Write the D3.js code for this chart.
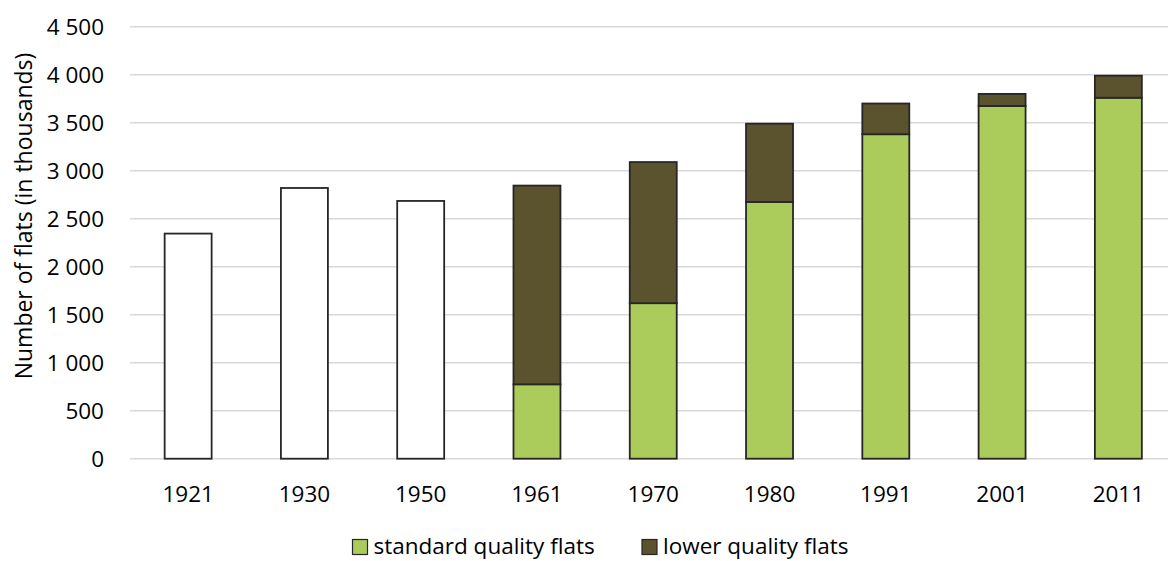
<!DOCTYPE html>
<html><head><meta charset="utf-8">
<script src="https://cdn.jsdelivr.net/npm/d3@7"></script>
<style>body{margin:0;background:#fff}svg{display:block}text{font-family:"Open Sans",sans-serif;fill:#000}</style>
</head><body><svg id="c" width="1168" height="561"></svg>
<script>
const years = ['1921','1930','1950','1961','1970','1980','1991','2001','2011'];
const totalUnsplit = [2345, 2820, 2685, 0, 0, 0, 0, 0, 0];
const standardFlats = [0, 0, 0, 775, 1620, 2675, 3380, 3675, 3760];
const lowerFlats = [0, 0, 0, 2070, 1470, 815, 320, 125, 230];
const yTicks = [0,500,1000,1500,2000,2500,3000,3500,4000,4500];
const seriesNames = ['standard quality flats','lower quality flats'];
const colors = ['#ABCB5A','#5B532E'];

const FS = 22.5;
const svg = d3.select('#c');
const x = d3.scaleBand().domain(years).range([130, 1176.5]).paddingInner(0.596).paddingOuter(0.298);
const y = d3.scaleLinear().domain([0,4500]).range([458.7, 26.7]);
const fmt = v => d3.format(',')(v).replace(/,/g,' ');

// gridlines
svg.append('g').selectAll('line').data(yTicks).join('line')
  .attr('x1',130).attr('x2',1168).attr('y1',d=>y(d)).attr('y2',d=>y(d))
  .attr('stroke','#D9D9D9').attr('stroke-width',1.5);

// y axis labels
const yAxis = d3.axisLeft(y).tickValues(yTicks).tickFormat(fmt).tickSize(0).tickPadding(0);
const ga = svg.append('g').attr('transform','translate(104,0)').call(yAxis);
ga.select('.domain').remove();
ga.selectAll('text').attr('font-size',FS).attr('dy','0.36em').attr('font-family','"Open Sans",sans-serif').attr('fill','#000');

// x axis labels
const xAxis = d3.axisBottom(x).tickSize(0).tickPadding(0);
const gx = svg.append('g').call(xAxis);
gx.select('.domain').remove();
gx.selectAll('text').attr('y',502).attr('dy',0).attr('font-size',FS).attr('font-family','"Open Sans",sans-serif').attr('fill','#000');

// unsplit bars
const rows = years.map((yr,i)=>({year:yr, total:totalUnsplit[i], standard:standardFlats[i], lower:lowerFlats[i]}));
svg.append('g').selectAll('rect').data(rows.filter(d=>d.total>0)).join('rect')
  .attr('x',d=>x(d.year)).attr('width',x.bandwidth())
  .attr('y',d=>y(d.total)).attr('height',d=>y(0)-y(d.total))
  .attr('fill','#fff').attr('stroke','#262626').attr('stroke-width',1.8);

// stacked bars
const stack = d3.stack().keys(['standard','lower'])(rows.filter(d=>d.standard>0));
svg.append('g').selectAll('g').data(stack).join('g').attr('fill',(d,i)=>colors[i])
  .selectAll('rect').data(d=>d).join('rect')
  .attr('x',d=>x(d.data.year)).attr('width',x.bandwidth())
  .attr('y',d=>y(d[1])).attr('height',d=>y(d[0])-y(d[1]))
  .attr('stroke','#262626').attr('stroke-width',1.8);

// y title
svg.append('text').attr('transform','translate(31.5,216) rotate(-90)').attr('text-anchor','middle')
  .attr('font-size',23).text('Number of flats (in thousands)');

// legend
const legX = [352.5, 642];
const lg = svg.append('g');
seriesNames.forEach((n,i)=>{
  lg.append('rect').attr('x',legX[i]).attr('y',539.5).attr('width',15).attr('height',15)
    .attr('fill',colors[i]).attr('stroke','#262626').attr('stroke-width',1.2);
  lg.append('text').attr('x',legX[i]+21).attr('y',554).attr('font-size',FS).text(n);
});
</script></body></html>
